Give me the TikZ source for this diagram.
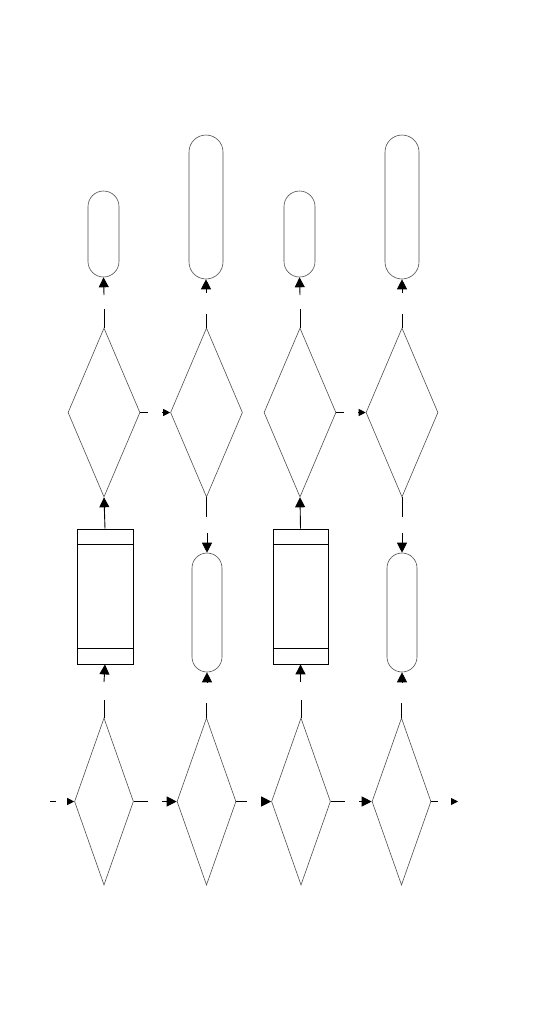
\documentclass[tikz,border=0pt]{standalone}
\usetikzlibrary{arrows.meta,shapes.geometric}
\begin{document}
\begin{tikzpicture}[x=1pt,y=-1pt,
 dec/.style={diamond,draw=black!70,line width=0.6pt,inner sep=0pt,minimum width=72pt,minimum height=169pt},
 decsm/.style={dec,minimum width=59pt,minimum height=167pt},
 term/.style={draw=black!70,line width=0.6pt,inner sep=0pt},
 store/.style={draw,line width=0.8pt,inner sep=0pt,minimum width=56pt,minimum height=135pt},
 ln/.style={line width=0.9pt},
 arr/.style={ln,-{Triangle[length=10pt,width=10pt]}},
 arrs/.style={ln,-{Triangle[length=7pt,width=7pt]}}]
\useasboundingbox (0,0) rectangle (540,1026);
% top terminals
\node[term,minimum width=31pt,minimum height=86pt,rounded corners=15.5pt] (tp1) at (103.5,234) {};
\node[term,minimum width=34pt,minimum height=144pt,rounded corners=17pt] (tp2) at (206,207) {};
\node[term,minimum width=31pt,minimum height=86pt,rounded corners=15.5pt] (tp3) at (299.5,234) {};
\node[term,minimum width=34pt,minimum height=144pt,rounded corners=17pt] (tp4) at (402,207) {};
% upper decisions
\node[dec] (ud1) at (104,412.5) {};
\node[dec] (ud2) at (206.5,412.5) {};
\node[dec] (ud3) at (300,412.5) {};
\node[dec] (ud4) at (402,412.5) {};
% middle row
\node[store] (st1) at (105,596.5) {};
\node[term,minimum width=30pt,minimum height=119pt,rounded corners=15pt] (mp2) at (207,612.5) {};
\node[store,minimum width=55pt] (st3) at (300.5,596.5) {};
\node[term,minimum width=30pt,minimum height=119pt,rounded corners=15pt] (mp4) at (402,612.5) {};
\foreach \s in {st1,st3}{
 \draw[line width=0.8pt] ([yshift=-16pt]\s.north west) -- ([yshift=-16pt]\s.north east);
 \draw[line width=0.8pt] ([yshift=16pt]\s.south west) -- ([yshift=16pt]\s.south east);}
% lower decisions
\node[decsm] (bd1) at (104,801.5) {};
\node[decsm] (bd2) at (206.5,801.5) {};
\node[decsm] (bd3) at (301,801.5) {};
\node[decsm] (bd4) at (401.5,801.5) {};
% free ends
\coordinate (t1) at (104,295); \coordinate (t2) at (206,293); \coordinate (t3) at (300,295); \coordinate (t4) at (402,293);
\coordinate (u1) at (104,309); \coordinate (u2) at (206.5,314); \coordinate (u3) at (300,309); \coordinate (u4) at (402,314);
\coordinate (m1) at (104,682); \coordinate (m2) at (207,682); \coordinate (m3) at (300.5,682); \coordinate (m4) at (402,682);
\coordinate (b1) at (104,700); \coordinate (b2) at (206.5,703); \coordinate (b3) at (301,700); \coordinate (b4) at (401.5,703);
\coordinate (d2a) at (206.5,517); \coordinate (d2b) at (207,533); \coordinate (d4a) at (402,517); \coordinate (d4b) at (402,533);
\coordinate (h1) at (148,412.5); \coordinate (h2) at (162,412.5); \coordinate (h3) at (344,412.5); \coordinate (h4) at (358,412.5);
\coordinate (l0) at (50,801.5); \coordinate (l1) at (56,801.5); \coordinate (l2) at (68,801.5);
\coordinate (r1) at (148,801.5); \coordinate (r2) at (162,801.5); \coordinate (r3) at (247,801.5); \coordinate (r4) at (262,801.5);
\coordinate (r5) at (345,801.5); \coordinate (r6) at (359,801.5); \coordinate (r7) at (438,801.5);
\coordinate (e1) at (451,801.5); \coordinate (e2) at (458,801.5);
% connectors
\draw[arr](t1)--(tp1.south);\draw[arr](t2)--(tp2.south);\draw[arr](t3)--(tp3.south);\draw[arr](t4)--(tp4.south);
\draw[ln](ud1.north)--(u1);\draw[ln](ud2.north)--(u2);\draw[ln](ud3.north)--(u3);\draw[ln](ud4.north)--(u4);
\draw[ln](ud1.east)--(h1);\draw[arrs](h2)--(ud2.west);\draw[ln](ud3.east)--(h3);\draw[arrs](h4)--(ud4.west);
\draw[arr](st1.north)--(ud1.south);\draw[arr](st3.north)--(ud3.south);
\draw[ln](ud2.south)--(d2a);\draw[arr](d2b)--(mp2.north);\draw[ln](ud4.south)--(d4a);\draw[arr](d4b)--(mp4.north);
\draw[arr](m1)--(st1.south);\draw[arr](m2)--(mp2.south);\draw[arr](m3)--(st3.south);\draw[arr](m4)--(mp4.south);
\draw[ln](bd1.north)--(b1);\draw[ln](bd2.north)--(b2);\draw[ln](bd3.north)--(b3);\draw[ln](bd4.north)--(b4);
\draw[ln](l0)--(l1);\draw[arrs](l2)--(bd1.west);
\draw[ln](bd1.east)--(r1);\draw[arr](r2)--(bd2.west);
\draw[ln](bd2.east)--(r3);\draw[arr](r4)--(bd3.west);
\draw[ln](bd3.east)--(r5);\draw[arr](r6)--(bd4.west);
\draw[ln](bd4.east)--(r7);\draw[arrs](e1)--(e2);
\end{tikzpicture}
\end{document}
